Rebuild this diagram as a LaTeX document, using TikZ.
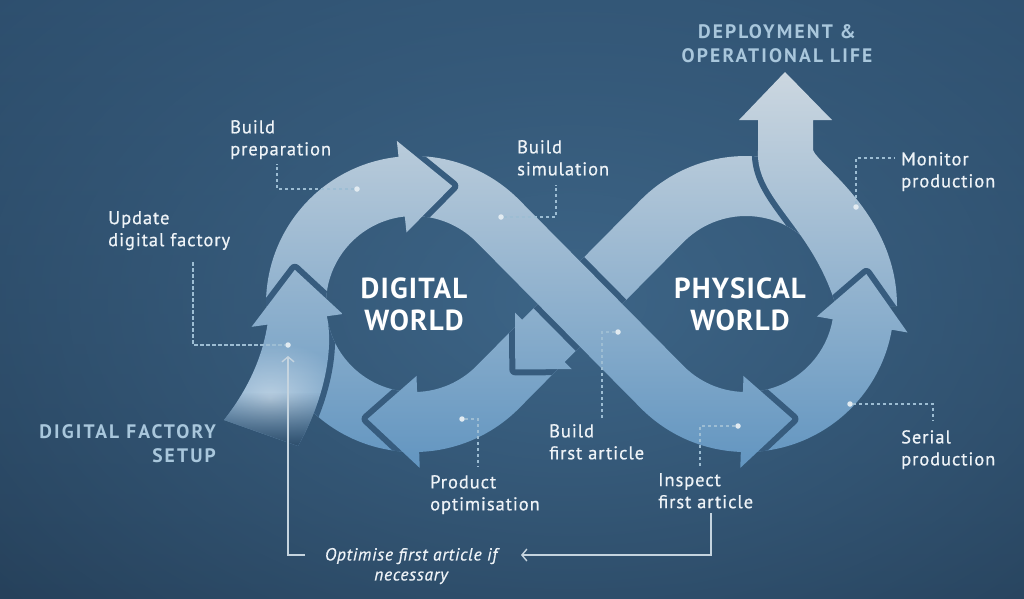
\documentclass[tikz,border=0pt]{standalone}
\usepackage{fontspec}
\setmainfont{PT Sans}
\usetikzlibrary{arrows.meta,fadings}

\definecolor{bgtop}{HTML}{294866}
\definecolor{bgbot}{HTML}{1E344B}
\definecolor{bgglow}{HTML}{3D6587}
\definecolor{bgtail}{HTML}{294865}
\definecolor{armtop}{HTML}{CFD9E1}
\definecolor{armbot}{HTML}{5F93BF}
\definecolor{gapcol}{HTML}{375C7E}
\definecolor{labcol}{HTML}{EEF3F7}
\definecolor{phasecol}{HTML}{A9C7DC}
\definecolor{leadcol}{HTML}{9DBDD3}
\definecolor{dotcol}{HTML}{E2EBF1}
\definecolor{fbcol}{HTML}{C5D4DF}

\tikzfading[name=glowfade, inner color=transparent!0, outer color=transparent!100]
\tikzfading[name=tailfade, top color=transparent!100, bottom color=transparent!0]

% point on a ring: centre, angle, radius
\newcommand\ringpt[3]{([shift={(#2:#3)}]#1)}

% the eight arrow pieces of the loop
\newcommand\pathClose{\ringpt{CL}{94}{148} arc[start angle=94, end angle=170, radius=148]
  -- \ringpt{CL}{170}{88} arc[start angle=170, end angle=94, radius=88] -- cycle}
\newcommand\pathOptim{(560.5,366.3) -- \ringpt{CL}{45}{148} arc[start angle=45, end angle=88, radius=148]
  -- \ringpt{CL}{88}{164} -- \ringpt{CL}{112}{124} -- \ringpt{CL}{88}{72}
  -- \ringpt{CL}{88}{88} arc[start angle=88, end angle=45, radius=88] -- (517.9,324.1) -- cycle}
\newcommand\pathReturn{\ringpt{CR}{318}{148} arc[start angle=318, end angle=225, radius=148]
  -- (522.1,319.8) -- (515.0,312.7) -- (515.3,369.4) -- (571.8,369.1) -- (564.7,362.0)
  -- \ringpt{CR}{225}{88} arc[start angle=225, end angle=318, radius=88] -- cycle}
\newcommand\pathMonitor{(836,306) .. controls (812,226) and (755,199) .. (758,150) -- (758,120)
  -- (739,120) -- (785,72) -- (832,120) -- (813,120) -- (813,150)
  .. controls (818,165) and (897,215) .. (897,306) -- cycle}
\newcommand\pathSerial{\ringpt{CR}{86}{148} arc[start angle=86, end angle=10, radius=148]
  -- \ringpt{CR}{10}{164} -- \ringpt{CR}{-14}{124} -- \ringpt{CR}{10}{72}
  -- \ringpt{CR}{10}{88} arc[start angle=10, end angle=86, radius=88] -- cycle}
\newcommand\pathSim{\ringpt{CL}{270}{148} arc[start angle=270, end angle=315, radius=148]
  -- \ringpt{CR}{135}{88} arc[start angle=135, end angle=92, radius=88]
  -- \ringpt{CR}{92}{72} -- \ringpt{CR}{68}{124} -- \ringpt{CR}{92}{164}
  -- \ringpt{CR}{92}{148} arc[start angle=92, end angle=135, radius=148]
  -- \ringpt{CL}{315}{88} arc[start angle=315, end angle=270, radius=88] -- cycle}
\newcommand\pathPrep{\ringpt{CL}{179}{148} arc[start angle=179, end angle=264, radius=148]
  -- \ringpt{CL}{264}{164} -- \ringpt{CL}{288}{124} -- \ringpt{CL}{264}{72}
  -- \ringpt{CL}{264}{88} arc[start angle=264, end angle=179, radius=88] -- cycle}
\newcommand\pathUpdate{\ringpt{CL}{172}{148} -- \ringpt{CL}{172}{164} -- \ringpt{CL}{196}{124}
  -- \ringpt{CL}{172}{72} -- \ringpt{CL}{172}{88} .. controls (334,350) and (324,400) .. (298,446)
  -- (224,420) .. controls (246,392) and (262,360) .. \ringpt{CL}{172}{148} -- cycle}

\begin{document}
\begin{tikzpicture}[x=1pt, y=-1pt,
    band/.style={path picture={\shade[top color=armtop, bottom color=armbot] (0,60) rectangle (1024,480);}},
    knock/.style={draw=gapcol, line width=12pt, line join=round},
    label/.style={font=\fontsize{18.5}{22}\selectfont\addfontfeatures{LetterSpace=5, FakeBold=0.6}, text=labcol, align=left, anchor=north west, inner sep=0pt},
    world/.style={font=\fontsize{29}{32}\selectfont\bfseries\addfontfeatures{LetterSpace=4}, text=white, align=center, inner sep=0pt},
    phase/.style={font=\fontsize{19.5}{24}\selectfont\bfseries\addfontfeatures{LetterSpace=11}, text=phasecol, inner sep=0pt},
    leader/.style={draw=leadcol, line width=1.3pt, dash pattern=on 3.5pt off 2.5pt},
    dot/.style={circle, fill=dotcol, inner sep=0pt, minimum size=5.5pt},
    feedback/.style={draw=fbcol, line width=1.4pt}
  ]
  \useasboundingbox (0,0) rectangle (1024,598);
  % background
  \shade[top color=bgtop, bottom color=bgbot] (0,0) rectangle (1024,598);
  \fill[bgglow, path fading=glowfade] (570,300) ellipse [x radius=1000, y radius=640];

  \coordinate (CL) at (414,304);
  \coordinate (CR) at (746,304);

  % arrows, back to front
  \path[band] \pathClose;
  \begin{scope} \clip \pathClose; \draw[knock] \pathOptim; \end{scope}
  \path[band] \pathOptim;
  \begin{scope} \clip \pathOptim; \draw[knock] \pathReturn; \end{scope}
  \path[band] \pathReturn;
  \begin{scope} \clip \pathReturn; \draw[knock] \pathMonitor; \end{scope}
  \path[band] \pathMonitor;
  \begin{scope} \clip \pathMonitor; \draw[knock] \pathSerial; \end{scope}
  \path[band] \pathSerial;
  \begin{scope} \clip \pathSerial; \draw[knock] \pathSim; \end{scope}
  \begin{scope} \clip \pathReturn; \draw[knock] \pathSim; \end{scope}
  \path[band] \pathSim;
  \begin{scope} \clip \pathSim; \draw[knock] \pathPrep; \end{scope}
  \path[band] \pathPrep;
  \begin{scope} \clip \pathPrep; \draw[knock] \pathUpdate; \end{scope}
  \begin{scope} \clip \pathClose; \draw[knock] \pathUpdate; \end{scope}
  \path[band] \pathUpdate;
  % light beam dissolving the tail of the first arrow
  \begin{scope}
    \clip \pathUpdate;
    \fill[white, opacity=.5, path fading=glowfade] (270,398) ellipse [x radius=80, y radius=56];
    \fill[bgtail, path fading=tailfade] (200,392) rectangle (345,450);
  \end{scope}

  % titles
  \node[world] (digital) at (414,304) {DIGITAL\\WORLD};
  \node[world] (physical) at (740,304) {PHYSICAL\\WORLD};
  \node[phase, align=center] (deploy) at (777,44) {DEPLOYMENT \&\\OPERATIONAL LIFE};
  \node[phase, align=right, anchor=east] (setup) at (216,444) {DIGITAL FACTORY\\SETUP};

  % step labels
  \node[label] (prep) at (230,120) {Build\\preparation};
  \node[label] (update) at (108,211) {Update\\digital factory};
  \node[label] (sim) at (517,140) {Build\\simulation};
  \node[label] (monitor) at (901,152) {Monitor\\production};
  \node[label] (firstart) at (549,424) {Build\\first article};
  \node[label] (prodopt) at (430,475) {Product\\optimisation};
  \node[label] (inspect) at (658,473) {Inspect\\first article};
  \node[label] (serial) at (901,430) {Serial\\production};
  \node[font=\fontsize{17.5}{20}\selectfont\itshape\addfontfeatures{LetterSpace=4, FakeBold=0.6}, text=labcol, align=center, inner sep=0pt] (optim) at (411,566) {Optimise first article if\\necessary};

  % markers
  \node[dot] (prepdot) at (357,189) {};
  \node[dot] (updot) at (288,345) {};
  \node[dot] (simdot) at (501,217) {};
  \node[dot] (mondot) at (856,207) {};
  \node[dot] (firstdot) at (618,332) {};
  \node[dot] (optdot) at (462,419) {};
  \node[dot] (insdot) at (738,426) {};
  \node[dot] (serdot) at (850,404) {};

  \coordinate (prepend) at (277,164);
  \coordinate (upend) at (193,262);
  \coordinate (simend) at (556,185);
  \coordinate (monend) at (895,158);
  \coordinate (firstend) at (602,418);
  \coordinate (optend) at (478,467);
  \coordinate (insend) at (700,467);
  \coordinate (serend) at (933,421);

  \draw[leader] (prepdot) -| (prepend);
  \draw[leader] (upend) |- (updot);
  \draw[leader] (simdot) -| (simend);
  \draw[leader] (mondot) |- (monend);
  \draw[leader] (firstdot) -| (firstend);
  \draw[leader] (optdot) -| (optend);
  \draw[leader] (insdot) -| (insend);
  \draw[leader] (serdot) -| (serend);

  % feedback loop
  \coordinate (fbtop) at (711,513);
  \coordinate (fbin) at (521,555);
  \coordinate (fbout) at (305,555);
  \draw[feedback, -{Straight Barb[length=5pt, width=12pt]}] (fbtop) |- (fbin);
  \draw[feedback, -{Straight Barb[length=5pt, width=12pt]}, shorten >=8pt] (fbout) -| (updot);
\end{tikzpicture}
\end{document}
